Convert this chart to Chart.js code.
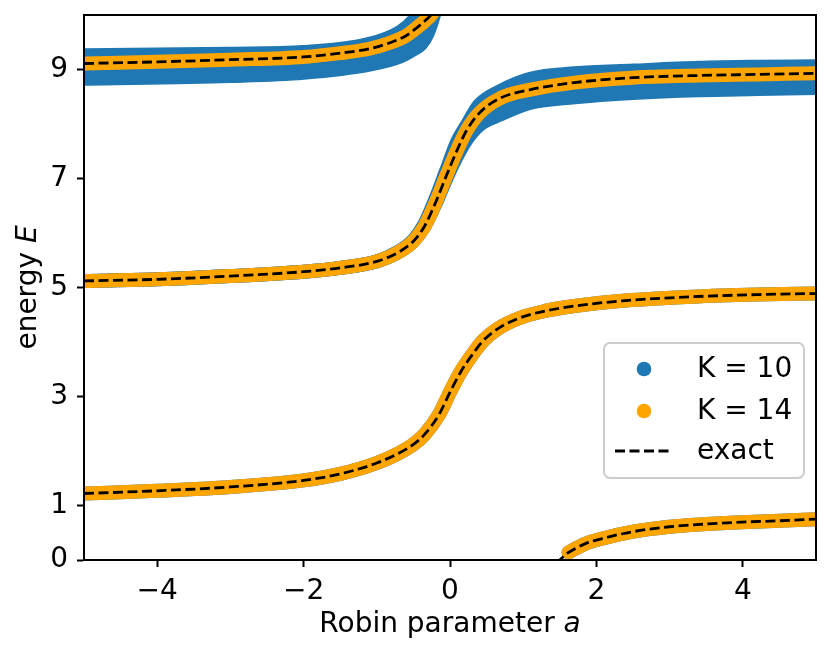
<!DOCTYPE html>
<html>
<head>
<meta charset="utf-8">
<script src="https://cdn.jsdelivr.net/npm/chart.js@4.4.1/dist/chart.umd.min.js"></script>
<style>
  html, body { margin: 0; padding: 0; background: #fff; }
  #wrap { width: 831px; height: 654px; }
</style>
</head>
<body>
<div id="wrap"><canvas id="levels" width="831" height="654"></canvas></div>
<script>
// axis ticks
const xTicks = [-4, -2, 0, 2, 4];
const yTicks = [0, 1, 3, 5, 7, 9];
const legendLabels = ["K = 10", "K = 14", "exact"];

// exact levels (dashed)
const exact1A = [1.45, 1.5, 1.6, 1.7, 1.85, 2.1, 2.5, 3.0, 3.5, 3.9, 4.5, 5.0];
const exact1E = [-0.06, 0.0, 0.12, 0.2, 0.3, 0.4, 0.52, 0.61, 0.66, 0.69, 0.72, 0.75];
const exact2A = [-5, -4, -3, -2, -1.5, -1, -0.7, -0.5, -0.35, -0.15, 0, 0.15, 0.3, 0.45, 0.65, 0.95, 1.3, 1.7, 2.4, 3.3, 4.2, 5];
const exact2E = [1.22, 1.27, 1.34, 1.46, 1.58, 1.78, 1.96, 2.12, 2.3, 2.67, 3.08, 3.46, 3.76, 4.02, 4.24, 4.44, 4.57, 4.66, 4.76, 4.83, 4.87, 4.89];
const exact3A = [-5, -4, -3, -2, -1.5, -1, -0.7, -0.5, -0.35, -0.2, -0.05, 0.1, 0.23, 0.4, 0.68, 1.1, 1.7, 2.5, 3.4, 4.2, 5];
const exact3E = [5.12, 5.15, 5.21, 5.29, 5.36, 5.48, 5.65, 5.85, 6.12, 6.55, 7.05, 7.53, 7.89, 8.2, 8.47, 8.63, 8.76, 8.85, 8.89, 8.91, 8.93];
const exact4A = [-5, -4, -3, -2, -1.5, -1.1, -0.8, -0.6, -0.45, -0.32, -0.25, -0.15];
const exact4E = [9.11, 9.14, 9.18, 9.23, 9.3, 9.38, 9.5, 9.62, 9.77, 9.92, 10.02, 10.3];

// K = 14 (orange), sits on the exact curves
const k14c1A = [1.62, 1.7, 1.85, 2.1, 2.5, 3.0, 3.5, 3.9, 4.5, 5.0];
const k14c1E = [0.14, 0.2, 0.3, 0.4, 0.52, 0.61, 0.66, 0.69, 0.72, 0.75];
const k14c2A = exact2A.slice();
const k14c2E = [1.22, 1.27, 1.34, 1.46, 1.58, 1.78, 1.96, 2.12, 2.3, 2.67, 3.08, 3.46, 3.76, 4.02, 4.24, 4.44, 4.57, 4.66, 4.76, 4.83, 4.87, 4.89];
const k14c3A = exact3A.slice();
const k14c3E = [5.12, 5.15, 5.21, 5.29, 5.36, 5.48, 5.65, 5.85, 6.12, 6.55, 7.05, 7.53, 7.89, 8.2, 8.47, 8.63, 8.76, 8.85, 8.89, 8.91, 8.93];
const k14c4A = exact4A.slice();
const k14c4E = [9.11, 9.14, 9.18, 9.23, 9.3, 9.38, 9.5, 9.62, 9.77, 9.92, 10.02, 10.3];

// K = 10 (blue): lower / upper edge of the spread of points
const k10c1A = k14c1A.slice();
const k10c1E = k14c1E.slice();
const k10c2A = k14c2A.slice();
const k10c2E = k14c2E.slice();
const k10c3A = exact3A.slice();
const k10c3Lo = [5.12, 5.15, 5.21, 5.29, 5.36, 5.48, 5.65, 5.85, 6.12, 6.53, 7.0, 7.42, 7.72, 7.98, 8.17, 8.39, 8.49, 8.57, 8.62, 8.64, 8.66];
const k10c3Hi = [5.12, 5.15, 5.21, 5.29, 5.36, 5.48, 5.66, 5.87, 6.16, 6.62, 7.15, 7.68, 7.98, 8.35, 8.6, 8.83, 8.93, 8.98, 9.03, 9.05, 9.06];
const k10c4A = [-5, -3, -2, -1.1, -0.68, -0.5, -0.4, -0.3, -0.2, -0.1];
const k10c4Lo = [8.83, 8.88, 8.94, 9.09, 9.24, 9.37, 9.46, 9.68, 10.1, 10.7];
const k10c4Hi = [9.26, 9.29, 9.32, 9.47, 9.69, 9.9, 10.1, 10.4, 10.8, 11.3];

const BLUE = "#1f77b4";
const ORANGE = "#ffa500";
const FONT = "DejaVu Sans";
const FSIZE = 28;

function pts(a, e) {
  return a.map((v, i) => ({ x: v, y: e[i] }));
}

function band(a, e, color, order, fill) {
  return {
    data: pts(a, e),
    borderColor: color,
    backgroundColor: color,
    borderWidth: 14,
    borderCapStyle: "round",
    borderJoinStyle: "round",
    pointRadius: 0,
    cubicInterpolationMode: "monotone",
    clip: 0,
    fill: fill || false,
    order: order,
  };
}

function dashed(a, e) {
  return {
    data: pts(a, e),
    borderColor: "#000",
    borderWidth: 2.8,
    borderDash: [10, 4.5],
    pointRadius: 0,
    cubicInterpolationMode: "monotone",
    clip: 0,
    fill: false,
    order: 0,
  };
}

const datasets = [
  band(k10c4A, k10c4Hi, BLUE, 3),
  band(k10c4A, k10c4Lo, BLUE, 3, "-1"),
  band(k10c3A, k10c3Hi, BLUE, 3),
  band(k10c3A, k10c3Lo, BLUE, 3, "-1"),
  band(k10c2A, k10c2E, BLUE, 3),
  band(k10c1A, k10c1E, BLUE, 3),
  band(k14c1A, k14c1E, ORANGE, 2),
  band(k14c2A, k14c2E, ORANGE, 2),
  band(k14c3A, k14c3E, ORANGE, 2),
  band(k14c4A, k14c4E, ORANGE, 2),
  dashed(exact1A, exact1E),
  dashed(exact2A, exact2E),
  dashed(exact3A, exact3E),
  dashed(exact4A, exact4E),
];

// spines, axis titles with italic symbols, and a matplotlib-like legend
const decorations = {
  id: "decorations",
  afterDraw(chart) {
    const ctx = chart.ctx;
    const area = chart.chartArea;
    ctx.save();

    ctx.strokeStyle = "#000";
    ctx.lineWidth = 2;
    ctx.strokeRect(area.left, area.top, area.right - area.left, area.bottom - area.top);

    ctx.fillStyle = "#000";
    ctx.textBaseline = "alphabetic";
    ctx.textAlign = "left";
    const normal = FSIZE + "px '" + FONT + "'";
    const italic = "italic " + FSIZE + "px '" + FONT + "'";

    // x title
    ctx.font = normal;
    const xa = "Robin parameter ";
    const wa = ctx.measureText(xa).width;
    ctx.font = italic;
    const wb = ctx.measureText("a").width;
    let x0 = (area.left + area.right) / 2 - (wa + wb) / 2;
    ctx.font = normal;
    ctx.fillText(xa, x0, 632);
    ctx.font = italic;
    ctx.fillText("a", x0 + wa, 632);

    // y title
    ctx.save();
    ctx.translate(36, (area.top + area.bottom) / 2);
    ctx.rotate(-Math.PI / 2);
    ctx.font = normal;
    const ya = "energy ";
    const wya = ctx.measureText(ya).width;
    ctx.font = italic;
    const wyb = ctx.measureText("E").width;
    const y0 = -(wya + wyb) / 2;
    ctx.font = normal;
    ctx.fillText(ya, y0, 0);
    ctx.font = italic;
    ctx.fillText("E", y0 + wya, 0);
    ctx.restore();

    // legend
    const bx = area.right - 212, by = area.bottom - 217, bw = 200, bh = 135;
    ctx.beginPath();
    ctx.roundRect(bx, by, bw, bh, 6);
    ctx.fillStyle = "rgba(255,255,255,0.8)";
    ctx.fill();
    ctx.strokeStyle = "#cccccc";
    ctx.lineWidth = 2;
    ctx.stroke();

    const rows = [by + 26, by + 68, by + 108];
    ctx.fillStyle = BLUE;
    ctx.beginPath();
    ctx.arc(bx + 40, rows[0], 7.3, 0, Math.PI * 2);
    ctx.fill();
    ctx.fillStyle = ORANGE;
    ctx.beginPath();
    ctx.arc(bx + 40, rows[1], 7.3, 0, Math.PI * 2);
    ctx.fill();
    ctx.strokeStyle = "#000";
    ctx.lineWidth = 2.8;
    ctx.setLineDash([10, 4.5]);
    ctx.beginPath();
    ctx.moveTo(bx + 11, rows[2]);
    ctx.lineTo(bx + 69, rows[2]);
    ctx.stroke();
    ctx.setLineDash([]);

    ctx.fillStyle = "#000";
    ctx.font = normal;
    ctx.textBaseline = "middle";
    legendLabels.forEach((t, i) => {
      ctx.fillText(t, bx + 93, rows[i] + 1);
    });

    ctx.restore();
  },
};

new Chart(document.getElementById("levels"), {
  type: "line",
  data: { datasets: datasets },
  options: {
    responsive: false,
    animation: false,
    layout: { padding: { top: 15, right: 15, left: 0, bottom: 0 } },
    plugins: {
      legend: { display: false },
      tooltip: { enabled: false },
    },
    scales: {
      x: {
        type: "linear",
        min: -5,
        max: 5,
        afterBuildTicks: (scale) => {
          scale.ticks = xTicks.map((v) => ({ value: v }));
        },
        afterFit: (scale) => {
          scale.height = 94;
          scale.paddingLeft = 0;
          scale.paddingRight = 0;
        },
        grid: {
          display: true,
          drawOnChartArea: false,
          drawTicks: true,
          tickLength: 7,
          tickWidth: 2,
          tickColor: "#000",
        },
        border: { display: true, color: "#000", width: 2 },
        ticks: {
          color: "#000",
          padding: 8,
          maxRotation: 0,
          font: { family: FONT, size: FSIZE },
          callback: (v) => String(v).replace("-", "\u2212"),
        },
      },
      y: {
        type: "linear",
        min: 0,
        max: 10,
        afterBuildTicks: (scale) => {
          scale.ticks = yTicks.map((v) => ({ value: v }));
        },
        afterFit: (scale) => {
          scale.width = 84;
          scale.paddingTop = 0;
          scale.paddingBottom = 0;
        },
        grid: {
          display: true,
          drawOnChartArea: false,
          drawTicks: true,
          tickLength: 7,
          tickWidth: 2,
          tickColor: "#000",
        },
        border: { display: true, color: "#000", width: 2 },
        ticks: {
          color: "#000",
          padding: 9,
          font: { family: FONT, size: FSIZE },
          callback: (v) => String(v),
        },
      },
    },
  },
  plugins: [decorations],
});
</script>
</body>
</html>
